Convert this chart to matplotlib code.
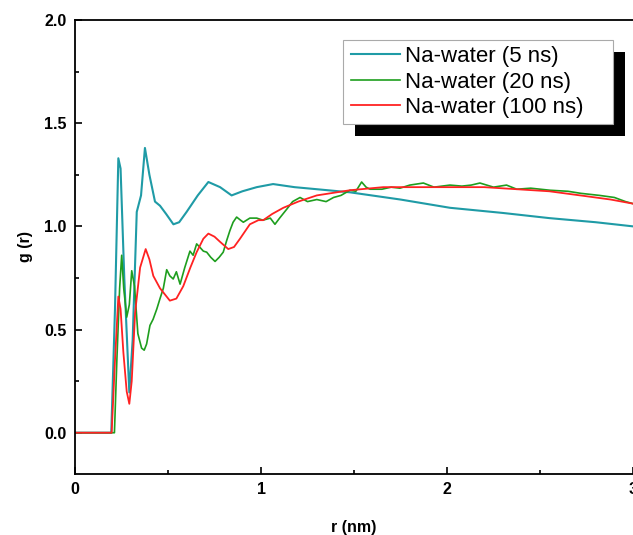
import numpy as np
import matplotlib.pyplot as plt
from matplotlib.patches import Rectangle
from matplotlib.ticker import MultipleLocator

plt.rcParams['font.family'] = ['Liberation Sans', 'DejaVu Sans']

# g(r), r in nm
r_5 = [0.0, 0.195, 0.215, 0.233, 0.245, 0.265, 0.292, 0.31, 0.332, 0.355, 0.376,
       0.40, 0.43, 0.457, 0.49, 0.529, 0.56, 0.60, 0.66, 0.717, 0.78, 0.842,
       0.90, 0.977, 1.065, 1.18, 1.30, 1.478, 1.75, 2.016, 2.30, 2.55, 2.80, 3.0]
g_5 = [0.0, 0.0, 0.6, 1.33, 1.28, 0.75, 0.195, 0.45, 1.07, 1.15, 1.38,
       1.25, 1.12, 1.10, 1.06, 1.01, 1.02, 1.07, 1.15, 1.215, 1.19, 1.15,
       1.17, 1.19, 1.205, 1.19, 1.18, 1.165, 1.13, 1.09, 1.065, 1.04, 1.02, 1.0]

r_20 = [0.0, 0.212, 0.225, 0.24, 0.251, 0.262, 0.278, 0.292, 0.305, 0.32, 0.338,
        0.358, 0.372, 0.385, 0.403, 0.42, 0.44, 0.457, 0.475, 0.493, 0.51, 0.528,
        0.545, 0.565, 0.59, 0.618, 0.635, 0.654, 0.67, 0.69, 0.708, 0.73, 0.753,
        0.775, 0.797, 0.815, 0.833, 0.85, 0.869, 0.89, 0.905, 0.94, 0.977, 1.01,
        1.05, 1.075, 1.1, 1.14, 1.17, 1.21, 1.25, 1.30, 1.35, 1.39, 1.43, 1.478,
        1.51, 1.541, 1.565, 1.586, 1.65, 1.70, 1.747, 1.80, 1.873, 1.93, 2.016,
        2.08, 2.13, 2.177, 2.25, 2.32, 2.375, 2.45, 2.554, 2.65, 2.72, 2.82,
        2.90, 2.96, 3.0]
g_20 = [0.0, 0.0, 0.35, 0.7, 0.86, 0.7, 0.56, 0.62, 0.785, 0.71, 0.48,
        0.41, 0.40, 0.43, 0.52, 0.55, 0.60, 0.65, 0.70, 0.79, 0.76, 0.745,
        0.78, 0.72, 0.80, 0.88, 0.86, 0.915, 0.90, 0.88, 0.875, 0.85, 0.83,
        0.85, 0.875, 0.93, 0.98, 1.02, 1.045, 1.03, 1.02, 1.04, 1.04, 1.03,
        1.04, 1.01, 1.04, 1.085, 1.12, 1.14, 1.12, 1.13, 1.12, 1.14, 1.15, 1.175,
        1.17, 1.215, 1.19, 1.18, 1.18, 1.19, 1.185, 1.20, 1.21, 1.19, 1.20,
        1.195, 1.20, 1.21, 1.19, 1.20, 1.18, 1.185, 1.175, 1.17, 1.16, 1.15,
        1.14, 1.12, 1.11]

r_100 = [0.0, 0.197, 0.215, 0.233, 0.245, 0.26, 0.278, 0.292, 0.305, 0.323, 0.35,
         0.38, 0.40, 0.421, 0.457, 0.51, 0.545, 0.582, 0.62, 0.654, 0.69, 0.717,
         0.75, 0.78, 0.824, 0.855, 0.887, 0.94, 0.986, 1.012, 1.06, 1.12, 1.20,
         1.30, 1.478, 1.657, 1.85, 2.016, 2.20, 2.375, 2.55, 2.733, 2.88, 3.0]
g_100 = [0.0, 0.0, 0.35, 0.66, 0.60, 0.39, 0.20, 0.14, 0.25, 0.58, 0.80,
         0.89, 0.84, 0.76, 0.70, 0.64, 0.65, 0.71, 0.80, 0.875, 0.94, 0.965,
         0.95, 0.925, 0.89, 0.90, 0.94, 1.01, 1.03, 1.03, 1.06, 1.09, 1.12,
         1.15, 1.175, 1.19, 1.19, 1.19, 1.19, 1.18, 1.17, 1.148, 1.13, 1.11]

labels = ['Na-water (5 ns)', 'Na-water (20 ns)', 'Na-water (100 ns)']
colors = ['#1f9ba6', '#1e9e1e', '#ff2222']

W, H = 633, 535
fig = plt.figure(figsize=(W / 100, H / 100), dpi=100)
ax = fig.add_axes([75 / W, 61 / H, 558 / W, 454 / H])

ax.plot(r_5, g_5, color=colors[0], lw=1.5, label=labels[0])
ax.plot(r_20, g_20, color=colors[1], lw=1.2, label=labels[1])
ax.plot(r_100, g_100, color=colors[2], lw=1.3, label=labels[2])

ax.set_xlim(0, 3)
ax.set_ylim(-0.2, 2.0)
ax.xaxis.set_major_locator(MultipleLocator(1))
ax.xaxis.set_minor_locator(MultipleLocator(0.5))
ax.yaxis.set_major_locator(MultipleLocator(0.5))
ax.yaxis.set_minor_locator(MultipleLocator(0.25))
ax.tick_params(which='both', direction='in', width=1.2, top=False, right=False)
ax.tick_params(which='major', length=5, labelsize=11.5, pad=6)
ax.tick_params(which='minor', length=3)
for lab in ax.get_xticklabels() + ax.get_yticklabels():
    lab.set_fontweight('bold')
for s in ['left', 'bottom', 'top']:
    ax.spines[s].set_linewidth(1.3)
ax.spines['right'].set_visible(False)

ax.set_xlabel('r (nm)', fontsize=11.5, fontweight='bold', labelpad=16)
ax.set_ylabel('g (r)', fontsize=11.5, fontweight='bold', labelpad=8)

leg = ax.legend(loc='upper left', bbox_to_anchor=(270 / 558, 1 - 20 / 454),
                fontsize=16, frameon=False, handlelength=2.2,
                handletextpad=0.22, borderpad=0.28, labelspacing=0.2,
                borderaxespad=0)
leg.set_zorder(7)

# legend frame (wider than the text) plus black drop shadow
fig.canvas.draw()
bb = leg.get_window_extent()
x0, y0 = bb.x0 - 2, bb.y0
w, h = bb.width + 25, bb.height
shadow = Rectangle(((x0 + 12) / W, (y0 - 12) / H), w / W, h / H,
                   transform=fig.transFigure, facecolor='black',
                   edgecolor='none', zorder=5, clip_on=False)
frame = Rectangle((x0 / W, y0 / H), w / W, h / H,
                  transform=fig.transFigure, facecolor='white',
                  edgecolor='#aaaaaa', lw=0.8, zorder=6, clip_on=False)
ax.add_patch(shadow)
ax.add_patch(frame)

fig.savefig('out.png', dpi=100)
